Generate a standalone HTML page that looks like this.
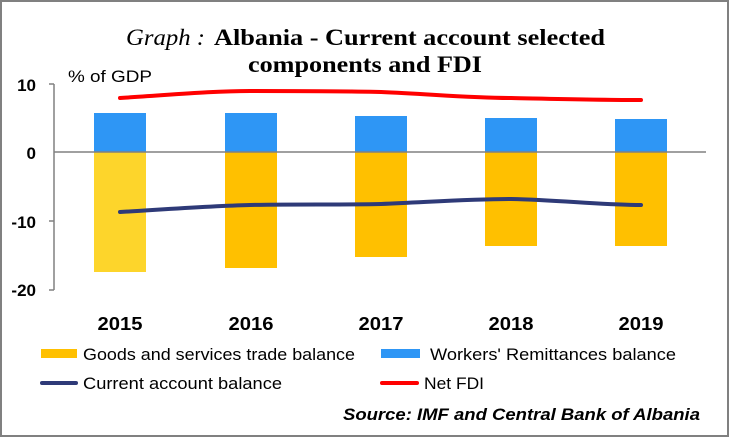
<!DOCTYPE html>
<html><head><meta charset="utf-8"><style>html,body{margin:0;padding:0;background:#fff}svg{display:block}</style></head><body>
<svg width="729" height="437" viewBox="0 0 729 437" xmlns="http://www.w3.org/2000/svg">
<rect x="1" y="1" width="727" height="435" fill="#fff" stroke="#808080" stroke-width="2"/>
<g font-family="Liberation Serif, serif" font-size="23" font-weight="bold" fill="#000">
<text x="126" y="45" font-style="italic" font-weight="normal" textLength="79" lengthAdjust="spacingAndGlyphs">Graph :</text>
<text x="214" y="45" textLength="391" lengthAdjust="spacingAndGlyphs">Albania - Current account selected</text>
<text x="248" y="72" textLength="234" lengthAdjust="spacingAndGlyphs">components and FDI</text>
</g>
<g font-family="Liberation Sans, sans-serif" font-size="17" font-weight="bold" fill="#000">
<text x="68" y="82" font-weight="normal" textLength="84" lengthAdjust="spacingAndGlyphs">% of GDP</text>
<text x="36" y="91" text-anchor="end">10</text>
<text x="36" y="159" text-anchor="end">0</text>
<text x="36" y="228" text-anchor="end">-10</text>
<text x="36" y="296" text-anchor="end">-20</text>
</g>
<line x1="54" y1="84" x2="54" y2="290" stroke="#808080" stroke-width="1.5"/>
<g stroke="#808080" stroke-width="1.5">
<line x1="49" y1="84" x2="54" y2="84"/><line x1="49" y1="221" x2="54" y2="221"/><line x1="49" y1="290" x2="54" y2="290"/>
</g>
<g fill="#2E96F5">
<rect x="94" y="113" width="52" height="39"/><rect x="225" y="113" width="52" height="39"/><rect x="355" y="116" width="52" height="36"/><rect x="485" y="118" width="52" height="34"/><rect x="615" y="119" width="52" height="33"/>
</g>
<rect x="94" y="152" width="52" height="120" fill="#FDD52B"/>
<g fill="#FFC000">
<rect x="225" y="152" width="52" height="116"/><rect x="355" y="152" width="52" height="105"/><rect x="485" y="152" width="52" height="94"/><rect x="615" y="152" width="52" height="94"/>
</g>
<line x1="54" y1="152" x2="706" y2="152" stroke="#808080" stroke-width="1.5"/>
<path d="M120,98 C170,95 210,91 250,91 C300,91 340,91 381,92 C430,94 470,98 511,98 C560,99 600,100 641,100" fill="none" stroke="#FF0000" stroke-width="4" stroke-linecap="round"/>
<path d="M120,212 C170,209 210,206 250,205 C300,204 340,205 381,204 C430,202 470,199 511,199 C560,200 600,205 641,205" fill="none" stroke="#2E3A78" stroke-width="4" stroke-linecap="round"/>
<g font-family="Liberation Sans, sans-serif" font-size="18" font-weight="bold" fill="#000" text-anchor="middle">
<text x="120" y="330" textLength="45" lengthAdjust="spacingAndGlyphs">2015</text>
<text x="251" y="330" textLength="45" lengthAdjust="spacingAndGlyphs">2016</text>
<text x="381" y="330" textLength="45" lengthAdjust="spacingAndGlyphs">2017</text>
<text x="511" y="330" textLength="45" lengthAdjust="spacingAndGlyphs">2018</text>
<text x="641" y="330" textLength="45" lengthAdjust="spacingAndGlyphs">2019</text>
</g>
<rect x="41" y="349" width="36" height="9" fill="#FFC000"/>
<rect x="381" y="349" width="39" height="9" fill="#2E96F5"/>
<line x1="42" y1="383" x2="76" y2="383" stroke="#2E3A78" stroke-width="4" stroke-linecap="round"/>
<line x1="382" y1="383" x2="417" y2="383" stroke="#FF0000" stroke-width="4" stroke-linecap="round"/>
<g font-family="Liberation Sans, sans-serif" font-size="17" fill="#000">
<text x="83" y="360" textLength="272" lengthAdjust="spacingAndGlyphs">Goods and services trade balance</text>
<text x="430" y="360" textLength="246" lengthAdjust="spacingAndGlyphs">Workers' Remittances balance</text>
<text x="83" y="389" textLength="199" lengthAdjust="spacingAndGlyphs">Current account balance</text>
<text x="424" y="389" textLength="60" lengthAdjust="spacingAndGlyphs">Net FDI</text>
<text x="343" y="420" font-style="italic" font-weight="bold" textLength="357" lengthAdjust="spacingAndGlyphs">Source: IMF and Central Bank of Albania</text>
</g>
</svg>
</body></html>
